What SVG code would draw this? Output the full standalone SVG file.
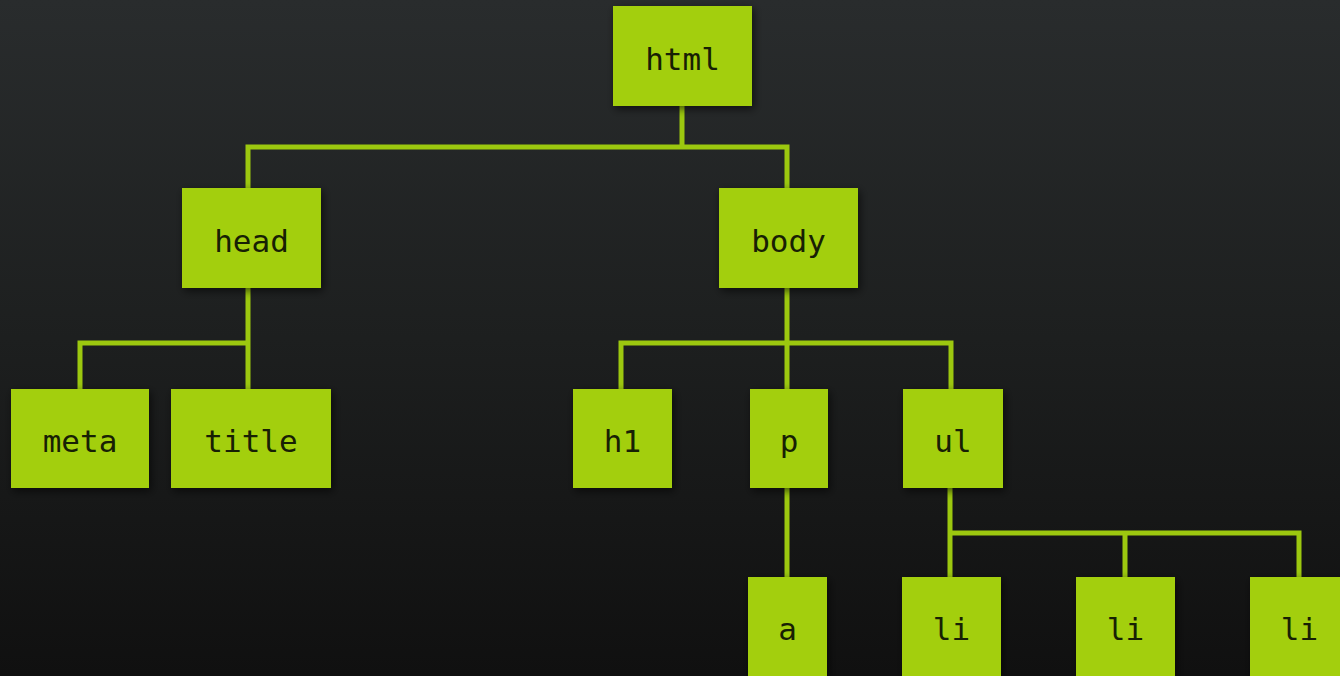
<svg xmlns="http://www.w3.org/2000/svg" width="1340" height="676" viewBox="0 0 1340 676">
<defs>
<linearGradient id="bg" x1="0" y1="0" x2="0" y2="1">
<stop offset="0" stop-color="#292c2d"/>
<stop offset="0.5" stop-color="#1d1f1f"/>
<stop offset="1" stop-color="#101010"/>
</linearGradient>
<filter id="sh" x="-20%" y="-20%" width="140%" height="140%">
<feDropShadow dx="2" dy="3" stdDeviation="4" flood-color="#000" flood-opacity="0.6"/>
</filter>
</defs>
<style>
.box{fill:#a3cf10;filter:url(#sh)}
.lbl{font-family:"DejaVu Sans Mono","Liberation Mono",monospace;font-size:31px;fill:#172004;text-anchor:middle}
.conn{fill:none;stroke:#9cc80f;stroke-width:5;stroke-linejoin:miter;stroke-linecap:square}
</style>
<rect width="1340" height="676" fill="url(#bg)"/>
<g id="connectors" class="conn">
<path d="M682 106V147M248 188V147H787V188"/>
<path d="M248 288V343M80 389V343H248V389"/>
<path d="M787 288V389M621 389V343H951V389"/>
<path d="M787 488V577"/>
<path d="M950 488V577M1125 577V533H1299V577M950 533H1125"/>
</g>
<g id="node-html"><rect class="box" x="613" y="6" width="139" height="100"/><text class="lbl" x="682.5" y="70">html</text></g>
<g id="node-head"><rect class="box" x="182" y="188" width="139" height="100"/><text class="lbl" x="251.5" y="252">head</text></g>
<g id="node-body"><rect class="box" x="719" y="188" width="139" height="100"/><text class="lbl" x="788.5" y="252">body</text></g>
<g id="node-meta"><rect class="box" x="11" y="389" width="138" height="99"/><text class="lbl" x="80" y="452">meta</text></g>
<g id="node-title"><rect class="box" x="171" y="389" width="160" height="99"/><text class="lbl" x="251" y="452">title</text></g>
<g id="node-h1"><rect class="box" x="573" y="389" width="99" height="99"/><text class="lbl" x="622.5" y="452">h1</text></g>
<g id="node-p"><rect class="box" x="750" y="389" width="78" height="99"/><text class="lbl" x="789" y="452">p</text></g>
<g id="node-ul"><rect class="box" x="903" y="389" width="100" height="99"/><text class="lbl" x="953" y="452">ul</text></g>
<g id="node-a"><rect class="box" x="748" y="577" width="79" height="99"/><text class="lbl" x="787.5" y="640">a</text></g>
<g id="node-li1"><rect class="box" x="902" y="577" width="99" height="99"/><text class="lbl" x="951.5" y="640">li</text></g>
<g id="node-li2"><rect class="box" x="1076" y="577" width="99" height="99"/><text class="lbl" x="1125.5" y="640">li</text></g>
<g id="node-li3"><rect class="box" x="1250" y="577" width="99" height="99"/><text class="lbl" x="1299.5" y="640">li</text></g>
</svg>
